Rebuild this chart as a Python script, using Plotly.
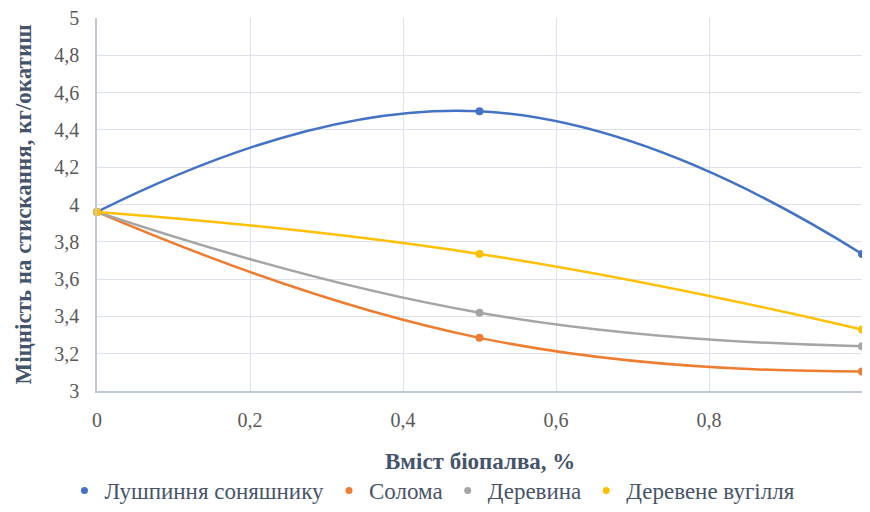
import plotly.graph_objects as go

x_vals = [0, 0.5, 1]
series_names = ["Лушпиння соняшнику", "Солома", "Деревина", "Деревене вугілля"]
series_values = [
    [3.96, 4.50, 3.735],
    [3.96, 3.285, 3.105],
    [3.96, 3.42, 3.24],
    [3.96, 3.735, 3.33],
]
colors = ["#4472C4", "#ED7D31", "#A5A5A5", "#FFC000"]
x_ticks = [0, 0.2, 0.4, 0.6, 0.8, 1]
y_ticks = [3, 3.2, 3.4, 3.6, 3.8, 4, 4.2, 4.4, 4.6, 4.8, 5]
x_title = "Вміст біопалва, %"
y_title = "Міцність на стискання, кг/окатиш"

fig = go.Figure()
for name, vals, c in zip(series_names, series_values, colors):
    fig.add_trace(go.Scatter(
        x=x_vals, y=vals, name=name, mode="lines+markers", showlegend=False,
        line=dict(color=c, width=2.5, shape="spline", smoothing=1.3),
        marker=dict(color=c, size=8),
        cliponaxis=False,
    ))
for name, c in zip(series_names, colors):
    fig.add_trace(go.Scatter(
        x=[None], y=[None], name=name, mode="markers",
        marker=dict(color=c, size=7), showlegend=True,
    ))

font_fam = "Liberation Serif"
fig.add_annotation(
    text="<b>" + x_title + "</b>", xref="paper", yref="paper",
    x=0.5, y=-0.19, xanchor="center", yanchor="middle", showarrow=False,
    font=dict(family=font_fam, size=23, color="#44546A"),
)
fig.update_layout(
    width=854, height=504,
    margin=dict(l=89, r=0, t=10, b=121, autoexpand=False),
    paper_bgcolor="white", plot_bgcolor="white",
    separators=", ",
    font=dict(family=font_fam, size=17, color="#595959"),
    showlegend=True,
    legend=dict(orientation="h", xref="container", x=0.497, xanchor="center",
                yref="container", y=-0.03, yanchor="bottom",
                font=dict(family=font_fam, size=23, color="#475467"),
                itemwidth=30, tracegroupgap=0),
    xaxis=dict(range=[0, 1], tickvals=x_ticks, showgrid=True, gridcolor="#DCE1EA",
               gridwidth=1, showline=True, linecolor="#BFC8D6", linewidth=1.5,
               zeroline=False, ticks="", ticklabelstandoff=10,
               tickfont=dict(family=font_fam, size=20, color="#595959")),
    yaxis=dict(range=[3, 5], tickvals=y_ticks, showgrid=True, gridcolor="#DCE1EA",
               gridwidth=1, showline=True, linecolor="#BFC8D6", linewidth=1.5,
               zeroline=False, ticks="", ticklabelstandoff=12, ticklabeloverflow="allow",
               tickfont=dict(family=font_fam, size=20, color="#595959"),
               title=dict(text="<b>" + y_title + "</b>", standoff=16,
                          font=dict(family=font_fam, size=23, color="#44546A"))),
)
fig.write_html("out.html")
